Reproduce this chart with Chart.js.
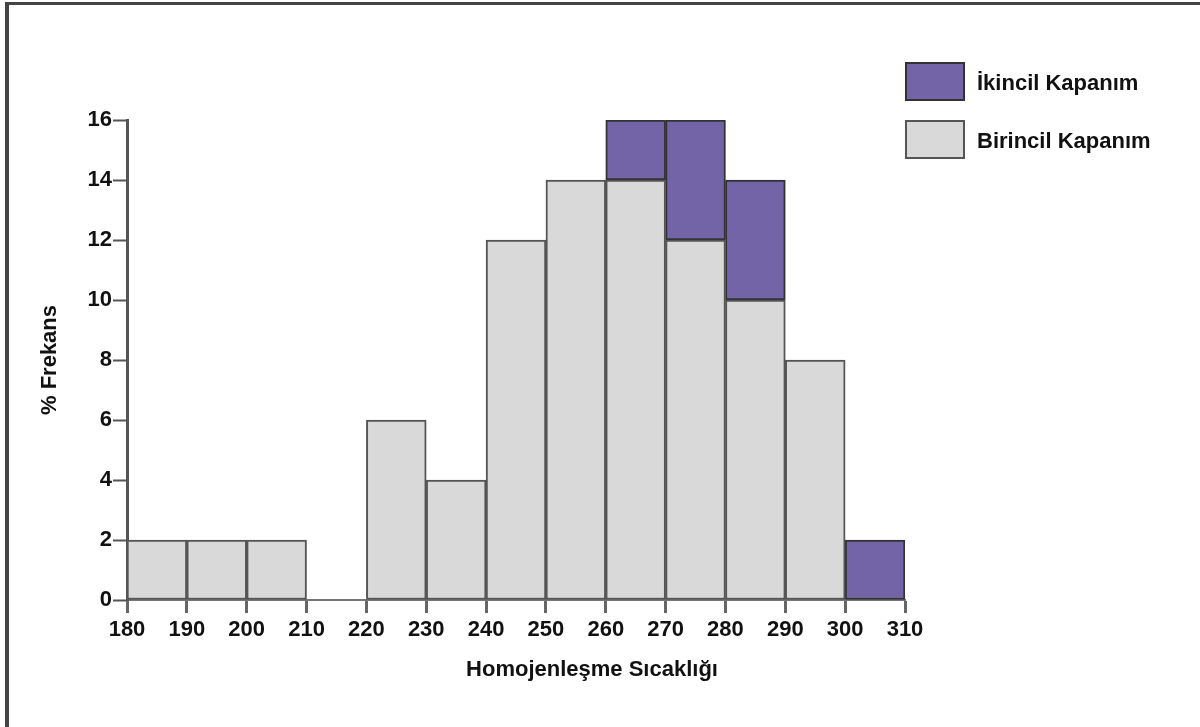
<!DOCTYPE html>
<html lang="tr">
<head>
  <meta charset="UTF-8" />
  <title>Homojenleşme Sıcaklığı</title>
  <script src="https://cdn.jsdelivr.net/npm/chart.js"></script>
  <style>
    html, body { margin: 0; padding: 0; background: #fff; }
    #wrap { width: 1200px; height: 727px; position: relative; }
  </style>
</head>
<body>
  <div id="wrap"><canvas id="grafik" width="1200" height="727"></canvas></div>

  <script>
    // bin starts (width 10) and % frequency per bin
    const binStart  = [180, 190, 200, 210, 220, 230, 240, 250, 260, 270, 280, 290, 300];
    const birincil  = [2, 2, 2, null, 6, 4, 12, 14, 14, 12, 10, 8, null];
    const ikincil   = [null, null, null, null, null, null, null, null, 2, 4, 4, null, 2];
    const xTicks    = [180, 190, 200, 210, 220, 230, 240, 250, 260, 270, 280, 290, 300, 310];
    const yTicks    = [0, 2, 4, 6, 8, 10, 12, 14, 16];

    const FONT = "'Liberation Sans', Arial, sans-serif";
    const GRAY = "#d9d9d9";
    const PURPLE = "#7264a6";

    const toPoints = arr => arr.map((v, i) => ({ x: binStart[i] + 5, y: v }));

    // frame, x title and legend
    const extras = {
      id: "extras",
      afterDraw(chart) {
        const ctx = chart.ctx;
        ctx.save();
        ctx.fillStyle = "#444";
        ctx.fillRect(5, 2, 1195, 3);
        ctx.fillRect(5, 2, 4, 725);

        ctx.fillStyle = "#111";
        ctx.font = "bold 22px " + FONT;
        ctx.textAlign = "center";
        ctx.textBaseline = "middle";
        ctx.fillText("Homojenleşme Sıcaklığı", 592, 670);

        const items = [chart.data.datasets[1], chart.data.datasets[0]];
        items.forEach((ds, i) => {
          const y = 62 + i * 58;
          ctx.fillStyle = ds.backgroundColor;
          ctx.fillRect(905, y, 60, 39);
          ctx.lineWidth = 2;
          ctx.strokeStyle = ds.borderColor;
          ctx.strokeRect(906, y + 1, 58, 37);
          ctx.fillStyle = "#111";
          ctx.textAlign = "left";
          ctx.fillText(ds.label, 977, y + 22);
        });
        ctx.restore();
      }
    };

    new Chart(document.getElementById("grafik"), {
      type: "bar",
      data: {
        datasets: [
          {
            label: "Birincil Kapanım",
            data: toPoints(birincil),
            backgroundColor: GRAY,
            borderColor: "#555",
            borderWidth: 2,
            borderSkipped: false,
            barPercentage: 1,
            categoryPercentage: 1
          },
          {
            label: "İkincil Kapanım",
            data: toPoints(ikincil),
            backgroundColor: PURPLE,
            borderColor: "#333",
            borderWidth: 2,
            borderSkipped: false,
            barPercentage: 1,
            categoryPercentage: 1
          }
        ]
      },
      options: {
        responsive: false,
        animation: false,
        layout: { padding: { top: 120, right: 295, bottom: 0, left: 0 } },
        plugins: {
          legend: { display: false },
          tooltip: { enabled: false }
        },
        scales: {
          x: {
            type: "linear",
            stacked: true,
            offset: false,
            min: 180,
            max: 310,
            afterFit: s => { s.height = 127; },
            afterBuildTicks: s => { s.ticks = xTicks.map(v => ({ value: v })); },
            grid: { offset: false, drawOnChartArea: false, tickLength: 13, tickWidth: 3, tickColor: "#666" },
            border: { color: "#777", width: 2 },
            ticks: { color: "#111", font: { family: FONT, size: 22, weight: "bold" }, padding: 4, maxRotation: 0 }
          },
          y: {
            stacked: true,
            min: 0,
            max: 16,
            afterFit: s => { s.width = 127; },
            afterBuildTicks: s => { s.ticks = yTicks.map(v => ({ value: v })); },
            grid: { drawOnChartArea: false, tickLength: 14, tickWidth: 2, tickColor: "#555" },
            border: { color: "#555", width: 3 },
            ticks: { color: "#111", font: { family: FONT, size: 22, weight: "bold" }, padding: 1 },
            title: {
              display: true,
              text: "% Frekans",
              color: "#111",
              font: { family: FONT, size: 22, weight: "bold" },
              padding: { top: 37, bottom: 0 }
            }
          }
        }
      },
      plugins: [extras]
    });
  </script>
</body>
</html>
